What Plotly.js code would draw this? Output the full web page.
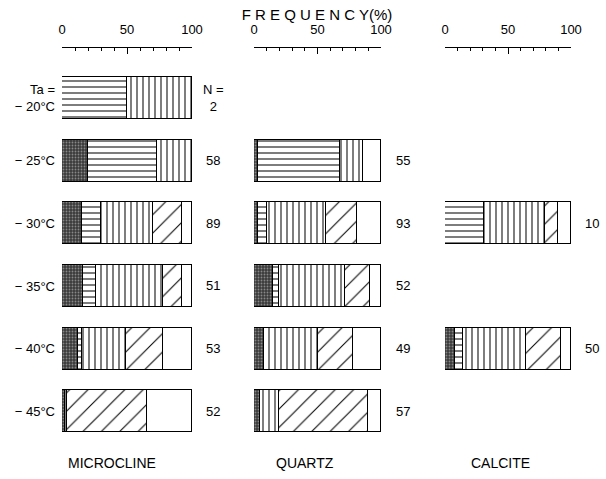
<!DOCTYPE html>
<html>
<head>
<meta charset="utf-8">
<script src="https://cdn.plot.ly/plotly-3.0.1.min.js"></script>
<style>html,body{margin:0;padding:0;background:#fff;}#chart{width:606px;height:479px;}</style>
</head>
<body>
<div id="chart"></div>
<script>
// ---- data ----
const rows = [0, 1, 2, 3, 4, 5];
const tempLabels = ['Ta =<br>− 20°C', '− 25°C', '− 30°C', '− 35°C', '− 40°C', '− 45°C'];
const minerals = ['MICROCLINE', 'QUARTZ', 'CALCITE'];

// Microcline (% per category, left to right)
const micSolid = [null, 20, 15, 16, 12, 2];
const micHoriz = [50, 53, 15, 10, 3, null];
const micVert  = [50, 27, 40, 52, 34, 2];
const micDiag  = [null, null, 22, 14, 29, 61];
const micBlank = [null, null, 8, 8, 22, 35];
const micN = ['N =<br>2', '58', '89', '51', '53', '52'];

// Quartz
const qzSolid = [null, 3, 3, 15, 8, 5];
const qzHoriz = [null, 65, 7, 5, null, null];
const qzVert  = [null, 18, 47, 52, 42, 15];
const qzDiag  = [null, null, 24, 19, 28, 70];
const qzBlank = [null, 14, 19, 9, 22, 10];
const qzN = [null, '55', '93', '52', '49', '57'];

// Calcite
const caSolid = [null, null, null, null, 8, null];
const caHoriz = [null, null, 31, null, 6, null];
const caVert  = [null, null, 48, null, 50, null];
const caDiag  = [null, null, 11, null, 28, null];
const caBlank = [null, null, 10, null, 8, null];
const caN = [null, null, '10', null, '50', null];

const xTickVals = [0, 50, 100];
const xTickText = ['0', '50', '100'];

// ---- styling ----
const FONT = 'Liberation Sans, Arial, sans-serif';
const styles = [
  {color: '#3a3a3a', pattern: {shape: '.', fgcolor: '#888', bgcolor: '#3a3a3a', size: 3, solidity: 0.3}},
  {color: '#fff', pattern: {shape: '-', fgcolor: '#000', bgcolor: '#fff', size: 6, solidity: 0.17}},
  {color: '#fff', pattern: {shape: '|', fgcolor: '#000', bgcolor: '#fff', size: 6, solidity: 0.17}},
  {color: '#fff', pattern: {shape: '/', fgcolor: '#000', bgcolor: '#fff', size: 13, solidity: 0.08}},
  {color: '#ffffff', pattern: null}
];

const panels = [
  {xa: 'x',  series: [micSolid, micHoriz, micVert, micDiag, micBlank], n: micN},
  {xa: 'x2', series: [qzSolid, qzHoriz, qzVert, qzDiag, qzBlank], n: qzN},
  {xa: 'x3', series: [caSolid, caHoriz, caVert, caDiag, caBlank], n: caN}
];

const traces = [];
panels.forEach(p => {
  p.series.forEach((vals, i) => {
    const marker = {color: styles[i].color, line: {color: '#000', width: 1}};
    if (styles[i].pattern) marker.pattern = styles[i].pattern;
    traces.push({
      type: 'bar', orientation: 'h',
      x: vals, y: rows,
      xaxis: p.xa, yaxis: 'y',
      width: 0.67,
      marker: marker,
      cliponaxis: false,
      hoverinfo: 'skip', showlegend: false
    });
  });
});

const domains = [[62/606, 192/606], [254/606, 381/606], [445/606, 571/606]];
const nX = [213/606, 403/606, 592/606];
const labelX = [112/606, 305/606, 500/606];

function xaxisDef(dom) {
  return {
    domain: dom, range: [0, 100], side: 'top', anchor: 'y',
    tickvals: xTickVals, ticktext: xTickText,
    ticks: 'inside', ticklen: 6, tickcolor: '#000', tickwidth: 1,
    minor: {dtick: 10, tick0: 0, ticks: 'inside', ticklen: 3, tickcolor: '#000'},
    showline: true, linecolor: '#000', linewidth: 1,
    showgrid: false, zeroline: false, fixedrange: true,
    ticklabelstandoff: 8,
    tickfont: {family: FONT, size: 13, color: '#000'}
  };
}

const annotations = [];
panels.forEach((p, k) => {
  p.n.forEach((t, r) => {
    if (t === null) return;
    annotations.push({xref: 'paper', yref: 'y', x: nX[k], y: rows[r], text: t,
      showarrow: false, xanchor: 'center', yanchor: 'middle',
      font: {family: FONT, size: 13, color: '#000'}});
  });
  annotations.push({xref: 'paper', yref: 'paper', x: labelX[k], y: -0.045, text: minerals[k],
    showarrow: false, xanchor: 'center', yanchor: 'middle',
    font: {family: FONT, size: 14, color: '#000'}});
});

const layout = {
  width: 606, height: 479,
  margin: {l: 0, r: 0, t: 48, b: 34},
  paper_bgcolor: '#fff', plot_bgcolor: '#fff',
  barmode: 'stack', bargap: 0,
  title: {text: 'F R E Q U E N C Y(%)', x: 317/606, xanchor: 'center', y: 1 - 15/479, yanchor: 'middle',
          font: {family: FONT, size: 15, color: '#000'}},
  xaxis: xaxisDef(domains[0]),
  xaxis2: xaxisDef(domains[1]),
  xaxis3: xaxisDef(domains[2]),
  yaxis: {
    anchor: 'x', range: [5.54, -0.8], tickvals: rows, ticktext: tempLabels,
    showline: false, showgrid: false, zeroline: false, ticks: '', fixedrange: true,
    ticklabelstandoff: 6,
    tickfont: {family: FONT, size: 13, color: '#000'}
  },
  annotations: annotations
};

Plotly.newPlot('chart', traces, layout, {displayModeBar: false});
</script>
</body>
</html>
